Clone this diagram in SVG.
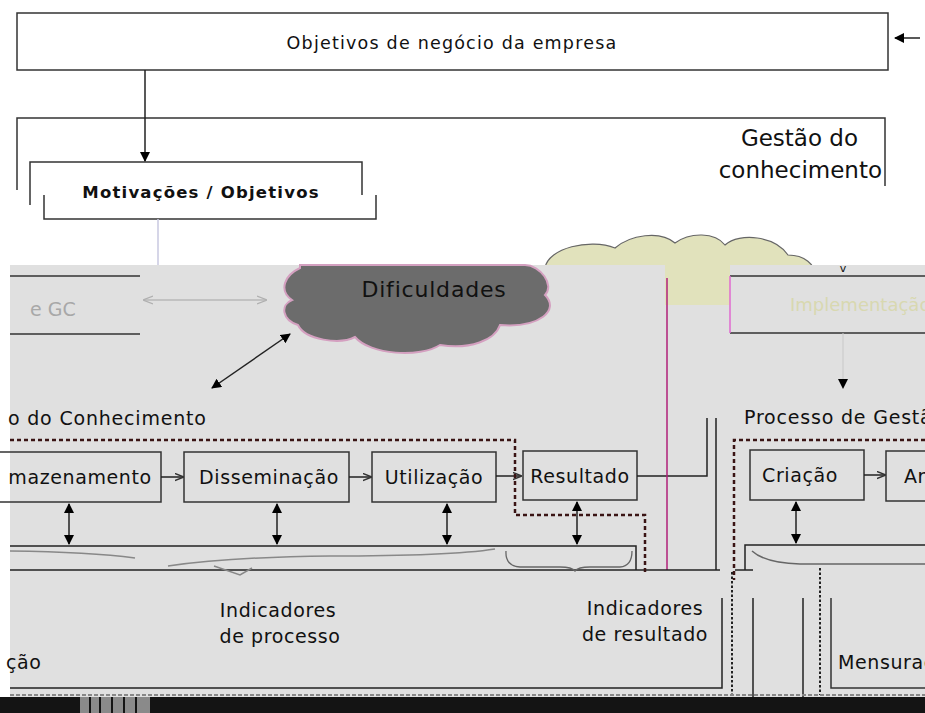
<svg xmlns="http://www.w3.org/2000/svg" width="925" height="713" viewBox="0 0 925 713">
<defs>
<marker id="ah" viewBox="0 0 10 10" refX="9" refY="5" markerWidth="10" markerHeight="10" orient="auto-start-reverse" markerUnits="userSpaceOnUse"><path d="M0,0 L10,5 L0,10 z" fill="#000"/></marker>
<marker id="ahs" viewBox="0 0 10 10" refX="9" refY="5" markerWidth="9" markerHeight="9" orient="auto-start-reverse" markerUnits="userSpaceOnUse"><path d="M0,1 L10,5 L0,9" fill="none" stroke="#333" stroke-width="1.5"/></marker>
<marker id="ahg" viewBox="0 0 10 10" refX="9" refY="5" markerWidth="10" markerHeight="10" orient="auto-start-reverse" markerUnits="userSpaceOnUse"><path d="M0,1 L10,5 L0,9" fill="none" stroke="#b0b0b0" stroke-width="1.2"/></marker>
</defs>
<style>
text{font-family:"DejaVu Sans","Liberation Sans",sans-serif;fill:#111}
.box{fill:none;stroke:#333;stroke-width:1.5}
.ln{fill:none;stroke:#222;stroke-width:1.5}
.dash{fill:none;stroke:#3a1414;stroke-width:2.5;stroke-dasharray:4,3}
.dot{fill:none;stroke:#222;stroke-width:2;stroke-dasharray:2.5,2}
.lbl{font-size:19px;letter-spacing:0.6px}
</style>
<rect width="925" height="713" fill="#fff"/>
<path id="cloudB" d="M545,268 C548,248 590,238 615,248 C630,235 660,230 675,243 C690,232 715,232 725,245 C740,232 775,236 788,255 C805,255 815,265 815,275 L545,275 Z" fill="#e1e2bc" stroke="#666" stroke-width="1.2"/>
<rect x="10" y="265" width="915" height="432" fill="#e0e0e0"/>
<rect x="665" y="265" width="65" height="40" fill="#e1e2bc"/>
<rect x="0" y="697" width="925" height="16" fill="#141414"/>
<rect x="80" y="697" width="70" height="16" fill="#8a8a8a"/>
<g stroke="#141414" stroke-width="2"><line x1="90" y1="697" x2="90" y2="713"/><line x1="100" y1="697" x2="100" y2="713"/><line x1="112" y1="697" x2="112" y2="713"/><line x1="124" y1="697" x2="124" y2="713"/><line x1="136" y1="697" x2="136" y2="713"/></g>

<g id="objetivos">
<rect class="box" x="17" y="13" width="871" height="57"/>
<text x="452" y="49" text-anchor="middle" style="font-size:17.5px;letter-spacing:1.2px">Objetivos de negócio da empresa</text>
</g>
<g id="gestao">
<path class="box" d="M17,190 V118 H885 V186"/>
<text x="858" y="146" text-anchor="end" style="font-size:23px">Gestão do</text>
<text x="882" y="178" text-anchor="end" style="font-size:23px">conhecimento</text>
</g>
<g id="motivacoes">
<path class="box" d="M30,205 V162 H362 V195"/>
<path class="box" d="M44,195 V219 H376 V195"/>
<text x="201" y="198" text-anchor="middle" style="font-size:16.5px;font-weight:bold;letter-spacing:1.2px">Motivações / Objetivos</text>
</g>
<g id="gc">
<path class="box" d="M10,276 H140 M140,334 H10"/>
<text x="30" y="316" style="font-size:19px;fill:#a8a8a8">e GC</text>
</g>
<g id="dificuldades">
<path d="M300,268 C285,275 278,290 292,300 C280,305 282,320 298,325 C305,340 340,345 355,337 C370,355 420,358 440,345 C470,350 495,340 500,325 C540,328 560,310 545,295 C555,285 540,265 525,265 L300,265 Z" fill="#6c6c6c" stroke="#d4a0c0" stroke-width="2"/>
<text x="434" y="297" text-anchor="middle" style="font-size:22px;letter-spacing:0.8px;fill:#111">Dificuldades</text>
</g>
<g id="implementacao">
<path class="box" d="M730,276 H925 M730,333 H925"/>
<line x1="730" y1="276" x2="730" y2="333" stroke="#e06ad0" stroke-width="1.5"/>
<text x="790" y="311" style="font-size:18px;fill:#d8d8b0">Implementação</text>
<text x="843" y="272" text-anchor="middle" style="font-size:11px">v</text>
</g>
<g id="processo-titulo">
<text x="8" y="425" style="font-size:19px;letter-spacing:0.8px">o do Conhecimento</text>
<text x="744" y="424" style="font-size:19px;letter-spacing:0.8px">Processo de Gestão do Conhecimento</text>
</g>
<g id="armazenamento">
<rect class="box" x="-20" y="452" width="181" height="50"/>
<text x="80" y="484" text-anchor="middle" class="lbl">mazenamento</text>
</g>
<g id="disseminacao">
<rect class="box" x="184" y="452" width="165" height="50"/>
<text x="269" y="484" text-anchor="middle" class="lbl">Disseminação</text>
</g>
<g id="utilizacao">
<rect class="box" x="372" y="452" width="124" height="50"/>
<text x="434" y="484" text-anchor="middle" class="lbl">Utilização</text>
</g>
<g id="resultado">
<rect class="box" x="523" y="451" width="114" height="49"/>
<text x="580" y="483" text-anchor="middle" class="lbl">Resultado</text>
</g>
<g id="criacao">
<rect class="box" x="750" y="450" width="114" height="50"/>
<text x="800" y="482" text-anchor="middle" class="lbl">Criação</text>
</g>
<g id="armazenamento2">
<rect class="box" x="886" y="451" width="60" height="50"/>
<text x="904" y="483" class="lbl">Ar</text>
</g>
<g id="indicadores-processo">
<text x="278" y="617" text-anchor="middle" class="lbl">Indicadores</text>
<text x="280" y="643" text-anchor="middle" class="lbl">de processo</text>
</g>
<g id="indicadores-resultado">
<text x="645" y="615" text-anchor="middle" class="lbl">Indicadores</text>
<text x="645" y="641" text-anchor="middle" class="lbl">de resultado</text>
</g>
<g id="avaliacao">
<text x="6" y="669" class="lbl">ção</text>
</g>
<g id="mensuracao">
<path class="box" d="M831,598 V688 H925"/>
<text x="838" y="669" class="lbl">Mensuração</text>
</g>

<g id="connectors">
<line class="ln" x1="920" y1="38" x2="895" y2="38" marker-end="url(#ah)"/>
<line class="ln" x1="145" y1="70" x2="145" y2="161" marker-end="url(#ah)"/>
<line x1="158" y1="219" x2="158" y2="265" stroke="#c8c8e0" stroke-width="1.5"/>
<line x1="144" y1="300" x2="266" y2="300" stroke="#b8b8b8" stroke-width="1.5" marker-start="url(#ahg)" marker-end="url(#ahg)"/>
<line x1="212" y1="388" x2="290" y2="334" stroke="#222" stroke-width="1.5" marker-start="url(#ah)" marker-end="url(#ah)"/>
<line x1="843" y1="333" x2="843" y2="388" stroke="#c8c8c8" stroke-width="1" marker-end="url(#ah)"/>
<line class="ln" x1="161" y1="477" x2="183" y2="477" marker-end="url(#ahs)"/>
<line class="ln" x1="349" y1="477" x2="371" y2="477" marker-end="url(#ahs)"/>
<line class="ln" x1="496" y1="476" x2="521" y2="476" marker-end="url(#ahs)"/>
<line class="ln" x1="864" y1="475" x2="885" y2="475" marker-end="url(#ahs)"/>
<path class="ln" d="M637,476 H707 V418"/>
<line x1="667" y1="278" x2="667" y2="570" stroke="#b0207a" stroke-width="1.5"/>
<line class="ln" x1="716" y1="418" x2="716" y2="570"/>
<g stroke="#222" stroke-width="1.5">
<line x1="69" y1="504" x2="69" y2="544" marker-start="url(#ah)" marker-end="url(#ah)"/>
<line x1="277" y1="504" x2="277" y2="544" marker-start="url(#ah)" marker-end="url(#ah)"/>
<line x1="447" y1="504" x2="447" y2="544" marker-start="url(#ah)" marker-end="url(#ah)"/>
<line x1="577" y1="502" x2="577" y2="544" marker-start="url(#ah)" marker-end="url(#ah)"/>
<line x1="796" y1="502" x2="796" y2="543" marker-start="url(#ah)" marker-end="url(#ah)"/>
</g>
<path class="ln" d="M10,546 H636 V570"/>
<line class="ln" x1="10" y1="570" x2="720" y2="570"/>
<path class="ln" d="M745,570 V545 H925"/>
<line class="ln" x1="735" y1="570" x2="753" y2="570"/>
<path d="M10,551 Q90,552 135,558 M168,566 Q230,557 330,556 Q450,556 495,549 M214,566 L240,575 L252,568" fill="none" stroke="#888" stroke-width="1.5"/>
<path d="M506,551 Q505,566 520,567 L560,567 Q572,567 575,571 Q578,567 590,567 L620,567 Q632,566 632,551" fill="none" stroke="#666" stroke-width="1.3"/>
<path d="M752,551 Q765,563 800,564 H925" fill="none" stroke="#666" stroke-width="1.5"/>
<path class="dash" d="M10,440 H515 V515 H645 V572"/>
<path class="dash" d="M925,440 H734 V580"/>
<path class="ln" d="M10,688 H722 V598"/>
<line class="dot" x1="732" y1="572" x2="732" y2="697"/>
<line class="ln" x1="753" y1="598" x2="753" y2="697"/>
<line class="ln" x1="803" y1="598" x2="803" y2="697"/>
<line class="dot" x1="820" y1="568" x2="820" y2="695"/>
<line x1="10" y1="695" x2="925" y2="695" stroke="#888" stroke-width="2" stroke-dasharray="4,2"/>
</g>
</svg>
